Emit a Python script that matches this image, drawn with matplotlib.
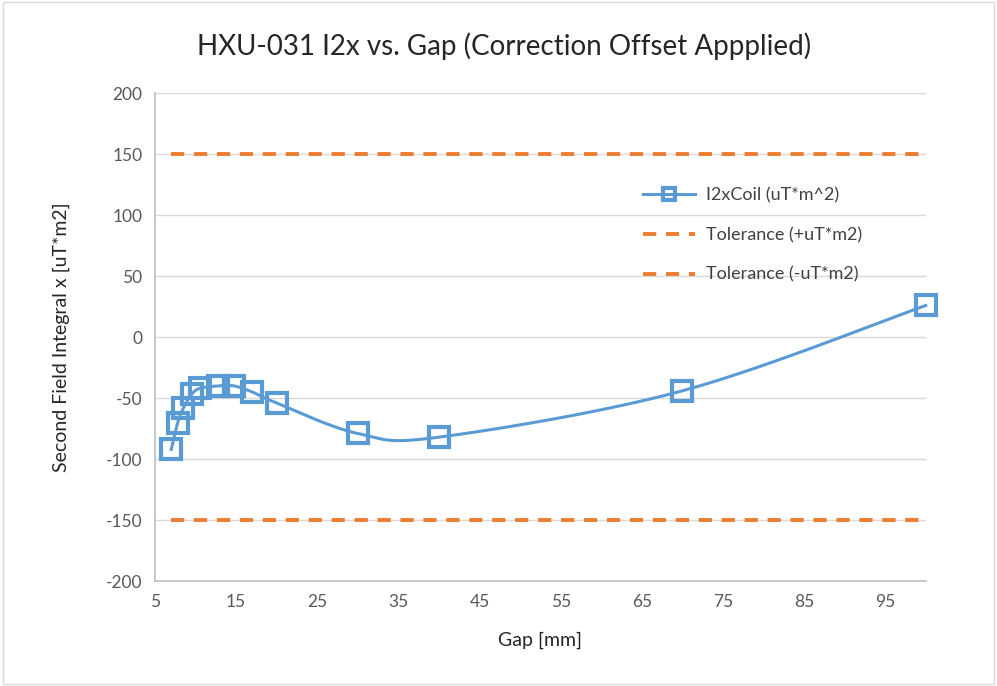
import numpy as np
import matplotlib.pyplot as plt

gap = [7, 7.8, 8.5, 9.5, 10.5, 12.75, 14.75, 17, 20, 30, 40, 70, 100]
i2x = [-92, -70, -58, -47, -42, -40, -40, -45, -54, -79, -82, -44, 26]
tol_x = [7, 100]
tol_plus = [150, 150]
tol_minus = [-150, -150]

blue = '#5B9BD5'
orange = '#ED7D31'
grey = '#595959'

plt.rcParams['font.family'] = ['Lato', 'DejaVu Sans']
plt.rcParams['axes.unicode_minus'] = False


def smooth(xs, ys, n=30):
    # excel style smoothing: bezier segments with catmull-rom control points
    p = np.column_stack([xs, ys]).astype(float)
    p = np.vstack([p[0], p, p[-1]])
    t = np.linspace(0, 1, n)[:, None]
    out = []
    for i in range(1, len(p) - 2):
        p0, p1, p2, p3 = p[i - 1], p[i], p[i + 1], p[i + 2]
        c1 = p1 + (p2 - p0) / 6
        c2 = p2 - (p3 - p1) / 6
        seg = ((1 - t) ** 3) * p1 + 3 * ((1 - t) ** 2) * t * c1 + 3 * (1 - t) * t ** 2 * c2 + t ** 3 * p2
        out.append(seg)
    out = np.vstack(out)
    return out[:, 0], out[:, 1]


fig = plt.figure(figsize=(9.97, 6.86), dpi=100)
ax = fig.add_axes([0.1555, 0.153, 0.773, 0.711])

dash = (0, (3.4, 2.5))
sx, sy = smooth(gap, i2x)
ax.plot(sx, sy, color=blue, lw=2.2, zorder=3, clip_on=False)
ax.plot(gap, i2x, ls='none', marker='s', ms=15, mfc='none', mec=blue, mew=3, zorder=4,
        clip_on=False)
ax.plot([], [], color=blue, lw=2.2, marker='s', ms=8, mfc='none', mec=blue, mew=3,
        label='I2xCoil (uT*m^2)')
ax.plot(tol_x, tol_plus, color=orange, lw=2.8, ls=dash, label='Tolerance (+uT*m2)')
ax.plot(tol_x, tol_minus, color=orange, lw=2.8, ls=dash, label='Tolerance (-uT*m2)')

ax.set_xlim(5, 100)
ax.set_ylim(-200, 200)
ax.set_xticks(np.arange(5, 100, 10))
ax.set_yticks(np.arange(-200, 201, 50))
ax.yaxis.grid(True, color='#D9D9D9', lw=1)
ax.set_axisbelow(True)
ax.tick_params(length=0, labelsize=12.5, colors=grey, pad=9)
for s in ['top', 'right']:
    ax.spines[s].set_visible(False)
for s in ['left', 'bottom']:
    ax.spines[s].set_color('#BFBFBF')
    ax.spines[s].set_linewidth(1.2)

ax.set_xlabel('Gap [mm]', fontsize=14, color='#262626', labelpad=16)
ax.set_ylabel('Second Field Integral x [uT*m2]', fontsize=14, color='#262626', labelpad=26)
fig.text(0.506, 0.932, 'HXU-031 I2x vs. Gap (Correction Offset Appplied)',
         ha='center', va='center', fontsize=20, color='#262626')

ax.legend(loc='upper left', bbox_to_anchor=(0.612, 0.84), frameon=False, fontsize=13,
          handlelength=2.9, labelspacing=1.3, handletextpad=0.6, labelcolor='#404040')

fig.patches.append(plt.Rectangle((0.003, 0.003), 0.994, 0.994, transform=fig.transFigure,
                                 fill=False, edgecolor='#D9D9D9', lw=1))
fig.savefig('out.png', dpi=100)
